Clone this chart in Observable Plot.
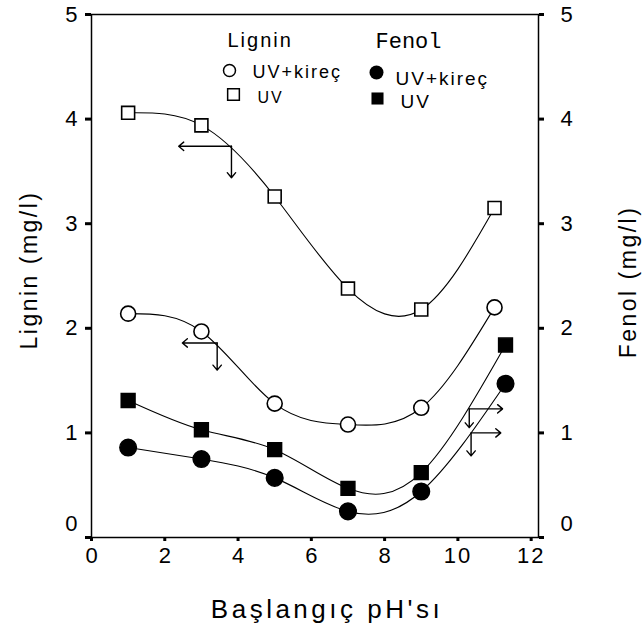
<!DOCTYPE html>
<html><head><meta charset="utf-8">
<script src="https://cdn.jsdelivr.net/npm/d3@7"></script>
<script src="https://cdn.jsdelivr.net/npm/@observablehq/plot@0.6"></script>
<style>
body{margin:0;background:#fff;}
</style>
</head><body><div id="chart"></div>
<script>
// Data
const phLignin = [1, 3, 5, 7, 9, 11];
const phFenol = [1, 3, 5, 7, 9, 11.3];
const ligninUV = [4.06, 3.94, 3.26, 2.38, 2.18, 3.15];
const ligninUVKirec = [2.14, 1.97, 1.28, 1.08, 1.24, 2.20];
const fenolUV = [1.31, 1.03, 0.84, 0.47, 0.62, 1.84];
const fenolUVKirec = [0.86, 0.75, 0.57, 0.25, 0.44, 1.47];
const xTicks = [0, 2, 4, 6, 8, 10, 12];
const yTicks = [0, 1, 2, 3, 4, 5];
// axis-indicator arrows (corner -> horizontal end / vertical end)
const arrowCornerX = [3.82, 3.43, 10.31, 10.36];
const arrowCornerY = [3.74, 1.86, 1.23, 1.00];
const arrowEndX = [2.38, 2.48, 11.22, 11.17];
const arrowEndY = [3.44, 1.60, 1.05, 0.78];

const rows = (name, xs, ys) => xs.map((x, i) => ({series: name, x, y: ys[i]}));
const sLUV = rows("Lignin UV", phLignin, ligninUV);
const sLUVK = rows("Lignin UV+kireç", phLignin, ligninUVKirec);
const sFUV = rows("Fenol UV", phFenol, fenolUV);
const sFUVK = rows("Fenol UV+kireç", phFenol, fenolUVKirec);
const allRows = [...sLUV, ...sLUVK, ...sFUV, ...sFUVK];

const arrows = [];
arrowCornerX.forEach((cx, i) => {
  arrows.push({x1: cx, y1: arrowCornerY[i], x2: arrowEndX[i], y2: arrowCornerY[i]});
  arrows.push({x1: cx, y1: arrowCornerY[i], x2: cx, y2: arrowEndY[i]});
});

const sans = "Liberation Sans, Arial, sans-serif";
const one = [0];
const fmt = d3.format("d");

const chart = Plot.plot({
  width: 642, height: 632,
  marginLeft: 91, marginRight: 104, marginTop: 14, marginBottom: 95,
  style: {fontFamily: sans, background: "white", color: "black"},
  x: {domain: [0, 12.2]},
  y: {domain: [0, 5]},
  marks: [
    Plot.frame({stroke: "black", strokeWidth: 1.5}),
    Plot.axisX({ticks: xTicks, tickFormat: fmt, tickSize: 4, tickPadding: 6, strokeWidth: 3, fontSize: 22, label: null}),
    Plot.axisY({anchor: "left", ticks: yTicks, tickFormat: fmt, tickSize: 6, tickPadding: 8, strokeWidth: 3, fontSize: 22, label: null}),
    Plot.axisY({anchor: "right", ticks: yTicks, tickFormat: fmt, tickSize: 5, tickPadding: 17, strokeWidth: 3, fontSize: 22, label: null}),
    Plot.line(allRows, {x: "x", y: "y", z: "series", curve: "natural", stroke: "black", strokeWidth: 1.1}),
    Plot.arrow(arrows, {x1: "x1", y1: "y1", x2: "x2", y2: "y2", stroke: "black", strokeWidth: 1.4, headLength: 7, headAngle: 80}),
    Plot.dot(sLUV, {x: "x", y: "y", symbol: "square", r: 7.3, fill: "white", stroke: "black", strokeWidth: 1.6}),
    Plot.dot(sLUVK, {x: "x", y: "y", symbol: "circle", r: 7.5, fill: "white", stroke: "black", strokeWidth: 1.6}),
    Plot.dot(sFUV, {x: "x", y: "y", symbol: "square", r: 7.8, fill: "black", stroke: "black"}),
    Plot.dot(sFUVK, {x: "x", y: "y", symbol: "circle", r: 8.3, fill: "black", stroke: "black"}),
    // axis titles
    Plot.text(["Başlangıç pH'sı"], {text: d => d, frameAnchor: "bottom", textAnchor: "middle", lineAnchor: "bottom", dx: 12, dy: 80, fontSize: 26}),
    Plot.text(["Lignin (mg/l)"], {text: d => d, frameAnchor: "left", textAnchor: "middle", rotate: -90, dx: -62, dy: -6, fontSize: 23}),
    Plot.text(["Fenol (mg/l)"], {text: d => d, frameAnchor: "right", textAnchor: "middle", rotate: -90, dx: 90, dy: 6, fontSize: 23}),
    // legend
    Plot.text(["Lignin"], {text: d => d, frameAnchor: "top-left", textAnchor: "start", lineAnchor: "bottom", dx: 136, dy: 32, fontSize: 20}),
    Plot.text(["Fenol"], {text: d => d, frameAnchor: "top-left", textAnchor: "start", lineAnchor: "bottom", dx: 284, dy: 33, fontSize: 22, fontFamily: "Liberation Mono, Courier New, monospace"}),
    Plot.dot(one, {frameAnchor: "top-left", dx: 138, dy: 56, r: 6, symbol: "circle", fill: "white", stroke: "black", strokeWidth: 1.5}),
    Plot.dot(one, {frameAnchor: "top-left", dx: 142, dy: 80, r: 6.6, symbol: "square", fill: "white", stroke: "black", strokeWidth: 1.5}),
    Plot.dot(one, {frameAnchor: "top-left", dx: 285, dy: 58, r: 7, symbol: "circle", fill: "black"}),
    Plot.dot(one, {frameAnchor: "top-left", dx: 286, dy: 84, r: 6.8, symbol: "square", fill: "black"}),
    Plot.text(["UV+kireç"], {text: d => d, frameAnchor: "top-left", textAnchor: "start", lineAnchor: "bottom", dx: 161, dy: 63, fontSize: 18}),
    Plot.text(["UV"], {text: d => d, frameAnchor: "top-left", textAnchor: "start", lineAnchor: "bottom", dx: 166, dy: 88, fontSize: 16}),
    Plot.text(["UV+kireç"], {text: d => d, frameAnchor: "top-left", textAnchor: "start", lineAnchor: "bottom", dx: 304, dy: 70, fontSize: 19}),
    Plot.text(["UV"], {text: d => d, frameAnchor: "top-left", textAnchor: "start", lineAnchor: "bottom", dx: 309, dy: 93, fontSize: 19})
  ]
});
document.getElementById("chart").appendChild(chart);

// typographic touch-ups (letter spacing / tick label size) applied as inline styles
const spacing = {
  "Başlangıç pH'sı": "3.5px",
  "Lignin (mg/l)": "2.5px",
  "Fenol (mg/l)": "2.5px",
  "Lignin": "2px",
  "UV+kireç": "2px",
  "UV": "2px"
};
d3.select(chart).selectAll("text").each(function() {
  const t = this.textContent;
  const sel = d3.select(this);
  if (/^\d+$/.test(t)) {
    sel.style("font-size", "22px");
    if (t.length > 1) sel.style("letter-spacing", "2px");
    const g = this.parentNode && this.parentNode.getAttribute("aria-label");
    if (t === "0" && g && g.indexOf("y-axis") >= 0) sel.attr("dy", "-0.6em");
  } else if (spacing[t]) {
    sel.style("letter-spacing", spacing[t]);
  }
});
</script>
</body></html>
